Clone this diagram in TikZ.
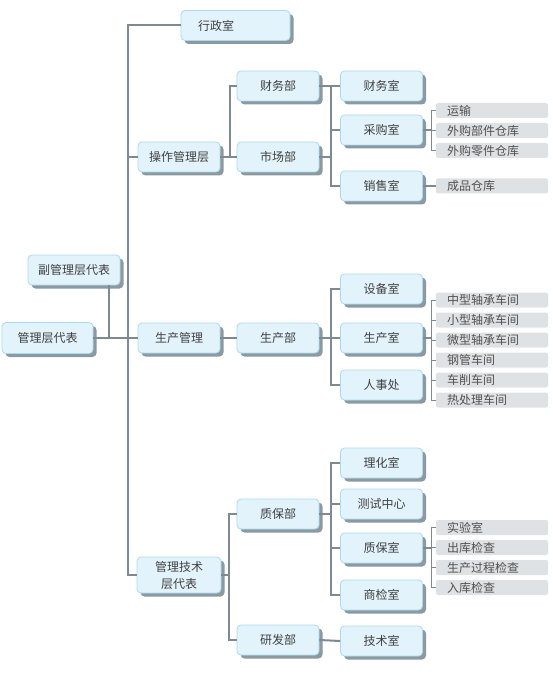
\documentclass[tikz,border=0pt]{standalone}
\usepackage{fontspec}
\setmainfont{Noto Sans CJK SC}
\usetikzlibrary{shadows,calc}
\definecolor{boxfill}{HTML}{E3F3FB}
\definecolor{boxdraw}{HTML}{A6DBF2}
\definecolor{boxtext}{HTML}{404040}
\definecolor{shadowgray}{HTML}{8E989F}
\definecolor{linegray}{HTML}{7E8A93}
\definecolor{tagfill}{HTML}{DFE2E5}
\definecolor{tagtext}{HTML}{505050}
\tikzset{
  % Unit box: light blue, rounded, grey drop shadow
  ubox/.style={draw=boxdraw, fill=boxfill, rounded corners=4pt, line width=0.8pt,
               minimum width=82pt, minimum height=30pt, inner sep=2pt, align=center,
               text=boxtext, font=\fontsize{12pt}{17pt}\selectfont,
               drop shadow={shadow xshift=3.5pt, shadow yshift=-3.5pt,
                            fill=shadowgray, opacity=1}},
  ubox-wide/.style={ubox, minimum width=92pt},
  % Workshop / store tag: flat grey strip, text at left
  tag/.style={fill=tagfill, rounded corners=2pt, minimum height=15pt,
              text width=90pt, inner xsep=11pt, inner ysep=0pt, align=left,
              text=tagtext, font=\fontsize{12pt}{14pt}\selectfont},
  % Connectors
  conn/.style={draw=linegray, line width=2pt},
  conn-thin/.style={draw=linegray, line width=1pt}
}
\begin{document}
\begin{tikzpicture}[x=1pt, y=-1pt]
\useasboundingbox (0,0) rectangle (553,676);

% ============== ROOT ==============
\node[ubox, minimum width=91pt, minimum height=31pt] (glc) at (47.5,338) {管理层代表};
\node[ubox-wide] (fgl) at (74,270) {副管理层代表};
\coordinate (trunk) at (128,338);

% ============== LEVEL 1 ==============
\node[ubox, text width=75pt, inner xsep=17pt, align=left] (xzs) at (235.5,25.5) {行政室};
\node[ubox] (czg) at (179,157) {操作管理层};
\node[ubox] (scgl) at (179,338) {生产管理};
\node[ubox, minimum width=84pt, minimum height=36pt] (jsc) at (179,575) {管理技术\\层代表};

% ============== LEVEL 2 ==============
\node[ubox] (cwb) at (278,86) {财务部};
\node[ubox] (scb) at (278,157) {市场部};
\node[ubox] (scb2) at (278,338) {生产部};
\node[ubox] (zbb) at (278,514) {质保部};
\node[ubox] (yfb) at (278,640) {研发部};

% ============== LEVEL 3 ==============
\node[ubox] (cws) at (381.5,86) {财务室};
\node[ubox] (cgs) at (381.5,130) {采购室};
\node[ubox] (xss) at (381.5,186) {销售室};
\node[ubox] (sbs) at (381.5,289) {设备室};
\node[ubox] (scs) at (381.5,338) {生产室};
\node[ubox] (rsc) at (381.5,385) {人事处};
\node[ubox] (lhs) at (381.5,463) {理化室};
\node[ubox] (cszx) at (381.5,504) {测试中心};
\node[ubox] (zbs) at (381.5,548) {质保室};
\node[ubox] (sjs) at (381.5,595) {商检室};
\node[ubox] (jss) at (381.5,641) {技术室};

% ============== trunk ==============
\draw[conn] (glc.east) -- (trunk);
\draw[conn] ([xshift=-11pt]fgl.south east) |- (trunk);
\draw[conn] (xzs.west) -| (trunk);
\draw[conn] (czg.west) -| (trunk);
\draw[conn] (scgl.west) -- (trunk);
\draw[conn] (jsc.west) -| (trunk);

% ============== level 1 -> level 2 ==============
\draw[conn] (czg.east) -- (scb.west);
\draw[conn] (czg.east) -- ++(10,0) |- (cwb.west);
\draw[conn] (scgl.east) -- (scb2.west);
\draw[conn] (jsc.east) -- ++(8,0) |- (zbb.west);
\draw[conn] (jsc.east) -- ++(8,0) |- (yfb.west);

% ============== level 2 -> level 3 ==============
\draw[conn] (cwb.east) -- (cws.west);
\draw[conn] (scb.east) -- ++(12,0) |- (cws.west);
\draw[conn] (scb.east) -- ++(12,0) |- (cgs.west);
\draw[conn] (scb.east) -- ++(12,0) |- (xss.west);
\draw[conn] (scb2.east) -- ++(12,0) |- (sbs.west);
\draw[conn] (scb2.east) -- (scs.west);
\draw[conn] (scb2.east) -- ++(12,0) |- (rsc.west);
\draw[conn] (zbb.east) -- ++(12,0) |- (lhs.west);
\draw[conn] (zbb.east) -- ++(12,0) |- (cszx.west);
\draw[conn] (zbb.east) -- ++(12,0) |- (zbs.west);
\draw[conn] (zbb.east) -- ++(12,0) |- (sjs.west);
\draw[conn] (yfb.east) -- (jss.west);

% ============== tags (stores / workshops) ==============
\draw[conn] (cgs.east) -- ++(9,0) coordinate (cgsb);
\foreach \nm/\yy/\txt in {ys/110.5/运输, wbj/130.5/外购部件仓库, wlj/150.5/外购零件仓库}{
  \node[tag] (\nm) at (492,\yy) {\txt};
  \draw[conn-thin] (cgsb) |- (\nm.west);
}
\node[tag] (cpck) at (492,186) {成品仓库};
\draw[conn] (xss.east) -- (cpck.west);

\draw[conn] (scs.east) -- ++(9,0) coordinate (scsb);
\foreach \nm/\yy/\txt in {zx/300/中型轴承车间, xx/320/小型轴承车间, wx/340/微型轴承车间,
                          ggc/360/钢管车间, cxc/380/车削车间, rcl/400/热处理车间}{
  \node[tag] (\nm) at (492,\yy) {\txt};
  \draw[conn-thin] (scsb) |- (\nm.west);
}

\draw[conn] (zbs.east) -- ++(9,0) coordinate (zbsb);
\foreach \nm/\yy/\txt in {sys/527.5/实验室, ckjc/547.5/出库检查,
                          scgc/567.5/生产过程检查, rkjc/587.5/入库检查}{
  \node[tag] (\nm) at (492,\yy) {\txt};
  \draw[conn-thin] (zbsb) |- (\nm.west);
}

\end{tikzpicture}
\end{document}
